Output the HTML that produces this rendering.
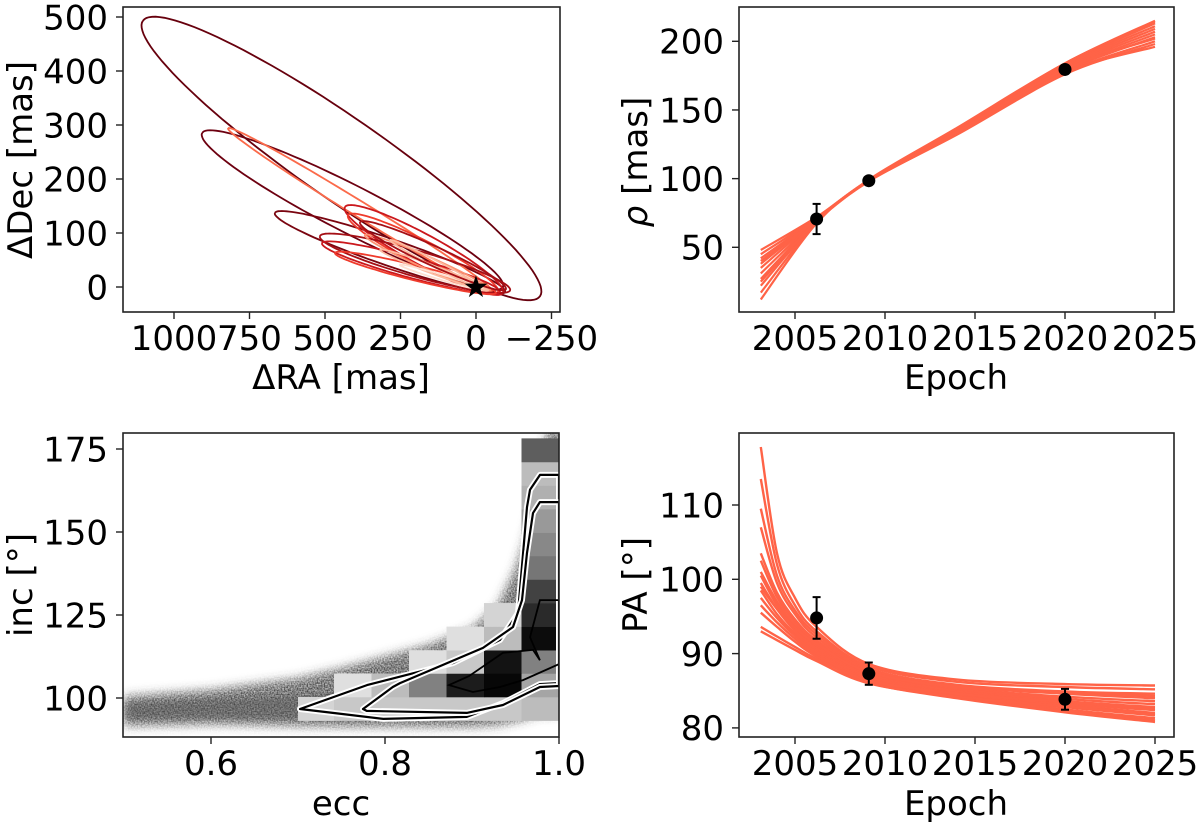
<!DOCTYPE html>
<html><head><meta charset="utf-8"><style>
html,body{margin:0;padding:0;background:#fff;}
svg{display:block;font-family:"DejaVu Sans","Liberation Sans",sans-serif;}
</style></head><body>
<svg id="fig" width="1200" height="829" viewBox="0 0 1200 829" xmlns="http://www.w3.org/2000/svg">
<defs>
<clipPath id="c1"><rect x="123" y="7" width="437" height="305"/></clipPath>
<clipPath id="c2"><rect x="739" y="7" width="435" height="305"/></clipPath>
<clipPath id="c3"><rect x="123" y="433" width="436" height="304"/></clipPath>
<clipPath id="c4"><rect x="739" y="433" width="435" height="304"/></clipPath>
<filter id="blur" x="-10%" y="-10%" width="120%" height="120%"><feGaussianBlur stdDeviation="3"/></filter>
<filter id="grain" x="-10%" y="-10%" width="120%" height="120%">
  <feGaussianBlur in="SourceGraphic" stdDeviation="5" result="b"/>
  <feTurbulence type="fractalNoise" baseFrequency="0.7" numOctaves="1" seed="3" result="n"/>
  <feColorMatrix in="n" type="matrix" values="0 0 0 0 0  0 0 0 0 0  0 0 0 0 0  0 0 0 1.6 -0.3" result="na"/>
  <feComposite in="b" in2="na" operator="arithmetic" k1="0.7" k2="0.3" k3="0" k4="0"/>
</filter>
</defs>
</svg>
<script>
// ---------- Panel 1: orbits ----------
const orbitApoRA  = [1103, 907, 666, 821, 434, 424, 517, 510, 467, 368, 318, 252, 285, 384];
const orbitApoDec = [493, 285, 137, 294, 148, 133, 94, 81, 63, 96, 69, 41, 87, 120];
const orbitEndRA  = [-212, -89, -96, -53, -89, -73, -113, -79, -66, -46, -40, -30, -36, -99];
const orbitEndDec = [-17, 0, -9, -7, -11, -9, -6, -9, -11, -6, -6, -6, -7, -4];
const orbitRatio  = [0.17, 0.14, 0.11, 0.05, 0.17, 0.15, 0.13, 0.11, 0.09, 0.09, 0.07, 0.06, 0.06, 0.12];
const orbitColor  = ['#67000d','#6d0010','#7a0510','#fb6a4a','#cb181d','#ef3b2c','#a50f15','#cb181d','#ef3b2c','#fc9272','#fcbba1','#fee0d2','#fcbba1','#a50f15'];
const raTicks = [1000, 750, 500, 250, 0, -250];
const decTicks = [0, 100, 200, 300, 400, 500];

// ---------- Panel 2: separation ----------
const rhoKnotYears = [2003.1, 2006.2, 2009.1, 2014, 2020, 2025];
const rhoCurves = [
 [48,72,98.5,132,176,198],[45,71.5,98.8,133,177,200],[42,71,98.6,133.5,178,203],
 [38,70.5,98.5,134,179,205],[35,70,98.3,134.5,180,207],[31,69.5,98.2,135,181,209],
 [27,69,98.5,135.5,182,211],[22,68.5,98.7,136,183,213],[17,68,99,136.5,184,215],
 [12,67.5,99.2,137,184,214],[40,70,98,132.5,177,196],[25,69,98.8,134,179.5,202]
];
const obsEpoch = [2006.2, 2009.1, 2020.0];
const obsRho = [70.6, 98.5, 179.5];
const obsRhoErr = [11, 1.5, 3];
const obsPA = [94.8, 87.3, 83.85];
const obsPAErr = [2.8, 1.5, 1.4];
const epochTicks = [2005, 2010, 2015, 2020, 2025];
const rhoTicks = [50, 100, 150, 200];

// ---------- Panel 4: position angle ----------
const paKnotYears = [2003.1, 2004, 2005, 2006.2, 2009.1, 2014, 2020, 2025];
const paCurves = [
 [117.8,103.5,97.5,93.6,88.6,86.5,85.9,85.7],[113.5,102,96.5,93.0,88.3,86.2,85.5,85.2],
 [109.5,100.5,95.8,92.6,88.0,85.8,84.9,84.6],[107,99.5,95.3,92.2,87.8,85.6,84.6,84.0],
 [103.5,98.2,94.6,91.8,87.6,85.4,84.2,83.6],[102.5,97.6,94.2,91.5,87.4,85.2,83.9,83.2],
 [101,97,93.8,91.2,87.2,85.0,83.6,82.8],[100.5,96.5,93.5,91.0,87.1,84.9,83.3,82.4],
 [99.5,96,93.1,90.7,86.9,84.7,83.1,82.0],[98.5,95.3,92.7,90.4,86.7,84.6,82.8,81.7],
 [97.5,94.8,92.4,90.2,86.5,84.4,82.5,81.3],[96.5,94.2,92.0,89.9,86.3,84.2,82.3,81.0],
 [95.5,93.6,91.6,89.6,86.1,84.0,82.1,80.8],[93.6,92.3,90.9,89.3,86.4,84.6,83.5,82.6],
 [93.0,91.8,90.5,89.0,86.0,84.2,82.9,81.8],[99,96,93.5,91.3,87.5,85.5,84.8,84.3]
];
const paTicks = [80, 90, 100, 110];

// ---------- Panel 3: ecc vs inc ----------
const bandEcc   = [0.5, 0.6, 0.7, 0.75, 0.8, 0.85, 0.9, 0.93, 0.95, 0.96, 0.97, 0.98, 0.99, 1.0];
const bandUpper = [100.5, 102.5, 106, 109, 112.5, 116, 121, 128, 139, 147, 157, 173, 183, 183];
const bandLower = [91.5, 92, 91.5, 91.3, 91.3, 91.3, 91.3, 91.8, 92.8, 93.5, 94.5, 95, 95, 95];
const coreUpper = [98.5, 99.5, 100.5, 101.5, 104, 107, 111, 116, 124, 132, 142, 157, 172, 182];
const coreLower = [93.5, 93.8, 93.5, 93.5, 93.5, 93.5, 93.8, 94.2, 95, 96, 97, 98, 99, 99];
const histEccEdges = [0.7, 0.7414, 0.7845, 0.8276, 0.8707, 0.9138, 0.9569, 1.0];
const histIncEdges = [93.2, 100.3, 107.4, 114.4, 121.5, 128.6, 135.7, 142.8, 149.8, 156.9, 164, 171.1, 178.2];
const histValues = [
 [0.1,0.15,0.15,0.15,0.15,0.15,0.2],
 [0,0.05,0.2,0.45,0.88,0.97,0.3],
 [0,0,0,0.05,0.15,0.92,0.45],
 [0,0,0,0,0.05,0.2,0.95],
 [0,0,0,0,0,0.1,0.82],
 [0,0,0,0,0,0,0.72],
 [0,0,0,0,0,0,0.5],
 [0,0,0,0,0,0,0.42],
 [0,0,0,0,0,0,0.35],
 [0,0,0,0,0,0,0.25],
 [0,0,0,0,0,0,0.2],
 [0,0,0,0,0,0,0.6]
];
const contourOuterEcc = [0.7023,0.7793,0.8782,0.9322,0.9529,0.9632,0.9667,0.9782,1.0,1.0,0.978,0.9356,0.894,0.798,0.740];
const contourOuterInc = [96.7,103.9,110.5,117.5,125.6,157.5,162.7,167.2,167.2,104.5,104.2,98.5,94.3,93.7,95.5];
const contourInnerEcc = [0.7747,0.809,0.8172,0.9126,0.9471,0.9575,0.9632,0.9701,0.978,1.0,1.0,0.978,0.9356,0.894,0.779];
const contourInnerInc = [96.7,103.3,104.5,115.1,121.4,129.5,143.7,155.7,159,159,103.6,103.3,97.9,95.5,96.1];
const contourCoreEcc = [0.8736,0.8966,0.9356,0.9701,0.978,0.9667,0.978,1.0,1.0,0.9586,0.9322,0.901,0.8736];
const contourCoreInc = [103.9,106.6,113.6,114.5,111.4,118.3,129.5,129.5,110.2,105.4,103.3,101.8,103.9];
const eccTicks = [0.6, 0.8, 1.0];
const incTicks = [100, 125, 150, 175];

// ---------- axis functions ----------
const P1 = {l:123,r:560,t:7,b:312}, P2 = {l:739,r:1174,t:7,b:312}, P3 = {l:123,r:559,t:433,b:737}, P4 = {l:739,r:1174,t:433,b:737};
const xRA = v => 476 - v*0.302, yDec = v => 287 - v*0.54;
const xEp = v => 795 + (v-2005)*18;
const yRho = v => 41.3 + (200-v)*1.3733;
const yPA = v => 579.3 + (100-v)*7.43;
const xEcc = v => 559 - (1-v)*870;
const yInc = v => 698 - (v-100)*3.32;

const svg = document.getElementById('fig');
const NS = 'http://www.w3.org/2000/svg';
function mk(tag, attrs, parent){ const e=document.createElementNS(NS,tag); for(const k in attrs) e.setAttribute(k,attrs[k]); (parent||svg).appendChild(e); return e; }
function group(name, clip){ const g=mk('g', clip?{'clip-path':'url(#'+clip+')'}:{});   return g; }
function crPath(pts){
  let d='M'+pts[0][0].toFixed(1)+','+pts[0][1].toFixed(1);
  for(let i=0;i<pts.length-1;i++){
    const p0=pts[Math.max(0,i-1)],p1=pts[i],p2=pts[i+1],p3=pts[Math.min(pts.length-1,i+2)];
    const c1=[p1[0]+(p2[0]-p0[0])/6,p1[1]+(p2[1]-p0[1])/6], c2=[p2[0]-(p3[0]-p1[0])/6,p2[1]-(p3[1]-p1[1])/6];
    d+=' C'+c1[0].toFixed(1)+','+c1[1].toFixed(1)+' '+c2[0].toFixed(1)+','+c2[1].toFixed(1)+' '+p2[0].toFixed(1)+','+p2[1].toFixed(1);
  }
  return d;
}
function polyD(xs, ys){ return 'M'+xs.map((x,i)=>x.toFixed(1)+','+ys[i].toFixed(1)).join(' L')+' Z'; }
const FS = 34;
function frame(P, name){ const r=mk('rect',{x:P.l,y:P.t,width:P.r-P.l,height:P.b-P.t,fill:'none',stroke:'#222','stroke-width':1.6});   }
function xTicks(P, vals, fx, labels, name){
  const g=group(name);
  vals.forEach((v,i)=>{ const x=fx(v);
    mk('line',{x1:x,y1:P.b,x2:x,y2:P.b+7,stroke:'#222','stroke-width':1.4},g);
    const t=mk('text',{x:x,y:P.b+38,'text-anchor':'middle','font-size':FS,fill:'#000'},g); t.textContent=labels[i];
      });
}
function yTicks(P, vals, fy, labels, name){
  const g=group(name);
  vals.forEach((v,i)=>{ const y=fy(v);
    mk('line',{x1:P.l-7,y1:y,x2:P.l,y2:y,stroke:'#222','stroke-width':1.4},g);
    const t=mk('text',{x:P.l-15,y:y+12.3,'text-anchor':'end','font-size':FS,fill:'#000'},g); t.textContent=labels[i];
      });
}
function label(txt, x, y, rot, name){
  const t=mk('text',{x:x,y:y,'text-anchor':'middle','font-size':FS,fill:'#000',transform:rot?'rotate(-90 '+x+' '+y+')':''});
  t.innerHTML=txt;   return t;
}

// ---------- draw panel 1 ----------
const g1 = group('orbit-tracks', 'c1');
orbitApoRA.forEach((_,i)=>{
  const ax=xRA(orbitApoRA[i]), ay=yDec(orbitApoDec[i]), ex=xRA(orbitEndRA[i]), ey=yDec(orbitEndDec[i]);
  const cx=(ax+ex)/2, cy=(ay+ey)/2, a=Math.hypot(ax-ex,ay-ey)/2, ux=(ax-ex)/(2*a), uy=(ay-ey)/(2*a), b=a*orbitRatio[i];
  const pts=[]; for(let k=0;k<=120;k++){ const th=k/120*2*Math.PI; pts.push((cx+a*Math.cos(th)*ux-b*Math.sin(th)*uy).toFixed(1)+','+(cy+a*Math.cos(th)*uy+b*Math.sin(th)*ux).toFixed(1)); }
  const p=mk('polyline',{points:pts.join(' '),fill:'none',stroke:orbitColor[i],'stroke-width':1.8},g1);
   
});
const star=mk('text',{x:xRA(0),y:yDec(0)+10,'text-anchor':'middle','font-size':30,fill:'#000'},g1); star.textContent='★';
 
frame(P1,'orbit-axes-frame');
xTicks(P1, raTicks, xRA, ['1000','750','500','250','0','\u2212250'], 'ra-ticks');
yTicks(P1, decTicks, yDec, decTicks.map(String), 'dec-ticks');
label('ΔRA [mas]', 341, 389, false, 'ra-axis-title');
label('ΔDec [mas]', 32, 160, true, 'dec-axis-title');

// ---------- draw panel 2 ----------
const g2 = group('rho-model-curves', 'c2');
rhoCurves.forEach(c=>{ const p=mk('path',{d:crPath(c.map((v,j)=>[xEp(rhoKnotYears[j]),yRho(v)])),fill:'none',stroke:'#ff6347','stroke-width':2.2},g2);
    });
const g2o = group('rho-observations');
obsEpoch.forEach((e,i)=>{ const x=xEp(e), y=yRho(obsRho[i]), y1=yRho(obsRho[i]+obsRhoErr[i]), y2=yRho(obsRho[i]-obsRhoErr[i]);
  mk('line',{x1:x,y1:y1,x2:x,y2:y2,stroke:'#000','stroke-width':2},g2o);
  mk('line',{x1:x-4,y1:y1,x2:x+4,y2:y1,stroke:'#000','stroke-width':2},g2o);
  mk('line',{x1:x-4,y1:y2,x2:x+4,y2:y2,stroke:'#000','stroke-width':2},g2o);
  const c=mk('circle',{cx:x,cy:y,r:6.5,fill:'#000'},g2o);   });
frame(P2,'rho-axes-frame');
xTicks(P2, epochTicks, xEp, epochTicks.map(String), 'rho-epoch-ticks');
yTicks(P2, rhoTicks, yRho, rhoTicks.map(String), 'rho-ticks');
label('Epoch', 956, 389, false, 'rho-epoch-axis-title');
label('<tspan font-style="italic">ρ</tspan> [mas]', 647, 162, true, 'rho-axis-title');

// ---------- draw panel 3 ----------
const g3 = group('ecc-inc-samples', 'c3');
const bx=bandEcc.map(xEcc);
const bandXs=bx.concat(bx.slice().reverse()), bandYs=bandUpper.map(yInc).concat(bandLower.map(yInc).reverse());
const band=mk('path',{d:polyD(bandXs,bandYs),fill:'#5a5a5a',filter:'url(#grain)'},g3);
 
const coreYs=coreUpper.map(yInc).concat(coreLower.map(yInc).reverse());
const core=mk('path',{d:polyD(bandXs,coreYs),fill:'#555',opacity:0.45,filter:'url(#blur)'},g3);
 
histValues.forEach((row,r)=>row.forEach((v,c)=>{ if(v<=0) return;
  const x1=xEcc(histEccEdges[c]), x2=xEcc(histEccEdges[c+1]), y1=yInc(histIncEdges[r+1]), y2=yInc(histIncEdges[r]);
  const gv=Math.round(235*(1-v)); const rc=mk('rect',{x:x1,y:y1,width:x2-x1+0.3,height:y2-y1+0.3,fill:'rgb('+gv+','+gv+','+gv+')'},g3);
    }));
[[contourOuterEcc,contourOuterInc,'outer-contour'],[contourInnerEcc,contourInnerInc,'inner-contour']].forEach(([ex,iy,nm])=>{
  const d=polyD(ex.map(xEcc), iy.map(yInc));
  mk('path',{d:d,fill:'none',stroke:'#fff','stroke-width':6,'stroke-linejoin':'round'},g3);
  const p=mk('path',{d:d,fill:'none',stroke:'#000','stroke-width':2.2,'stroke-linejoin':'round'},g3);
    });
const cc=mk('path',{d:polyD(contourCoreEcc.map(xEcc), contourCoreInc.map(yInc)),fill:'none',stroke:'#000','stroke-width':1.8},g3);
 
frame(P3,'ecc-inc-axes-frame');
xTicks(P3, eccTicks, xEcc, ['0.6','0.8','1.0'], 'ecc-ticks');
yTicks(P3, incTicks, yInc, incTicks.map(String), 'inc-ticks');
label('ecc', 341, 815, false, 'ecc-axis-title');
label('inc [°]', 32, 585, true, 'inc-axis-title');

// ---------- draw panel 4 ----------
const g4 = group('pa-model-curves', 'c4');
paCurves.forEach(c=>{ const p=mk('path',{d:crPath(c.map((v,j)=>[xEp(paKnotYears[j]),yPA(v)])),fill:'none',stroke:'#ff6347','stroke-width':2.4},g4);
    });
const g4o = group('pa-observations');
obsEpoch.forEach((e,i)=>{ const x=xEp(e), y=yPA(obsPA[i]), y1=yPA(obsPA[i]+obsPAErr[i]), y2=yPA(obsPA[i]-obsPAErr[i]);
  mk('line',{x1:x,y1:y1,x2:x,y2:y2,stroke:'#000','stroke-width':2},g4o);
  mk('line',{x1:x-4,y1:y1,x2:x+4,y2:y1,stroke:'#000','stroke-width':2},g4o);
  mk('line',{x1:x-4,y1:y2,x2:x+4,y2:y2,stroke:'#000','stroke-width':2},g4o);
  const c=mk('circle',{cx:x,cy:y,r:6.5,fill:'#000'},g4o);   });
frame(P4,'pa-axes-frame');
xTicks(P4, epochTicks, xEp, epochTicks.map(String), 'pa-epoch-ticks');
yTicks(P4, paTicks, yPA, paTicks.map(String), 'pa-ticks');
label('Epoch', 956, 815, false, 'pa-epoch-axis-title');
label('PA [°]', 647, 585, true, 'pa-axis-title');
</script>
</body></html>
